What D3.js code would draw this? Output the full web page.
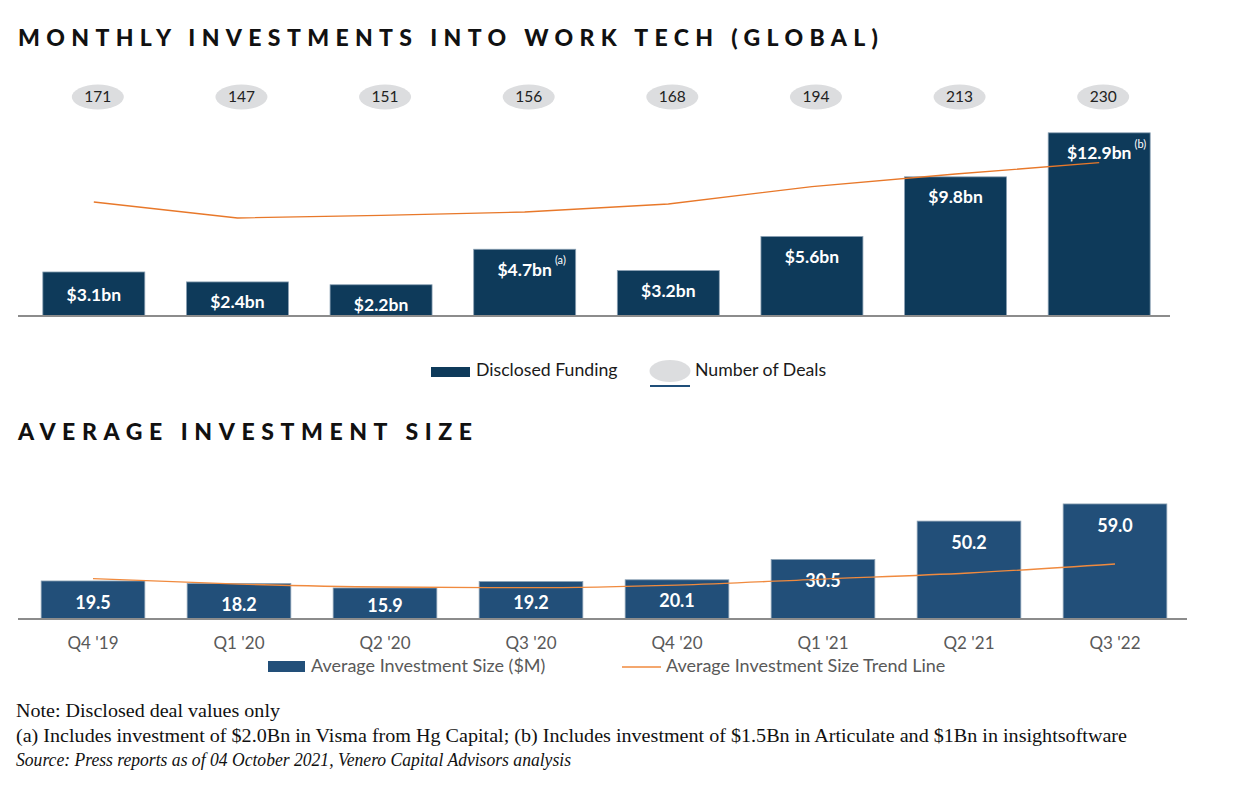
<!DOCTYPE html>
<html>
<head>
<meta charset="utf-8">
<script src="https://cdn.jsdelivr.net/npm/d3@7"></script>
<style>
  html, body { margin: 0; padding: 0; background: #ffffff; }
  svg { display: block; }
</style>
</head>
<body>
<svg id="chart" width="1237" height="787"></svg>
<script>
// ---------------- DATA ----------------
const categories = ["Q4 '19", "Q1 '20", "Q2 '20", "Q3 '20", "Q4 '20", "Q1 '21", "Q2 '21", "Q3 '22"];
const fundingBn = [3.1, 2.4, 2.2, 4.7, 3.2, 5.6, 9.8, 12.9];
const fundingLabels = ["$3.1bn", "$2.4bn", "$2.2bn", "$4.7bn", "$3.2bn", "$5.6bn", "$9.8bn", "$12.9bn"];
const fundingNotes = ["", "", "", "(a)", "", "", "", "(b)"];
const dealCounts = [171, 147, 151, 156, 168, 194, 213, 230];
const avgSize = [19.5, 18.2, 15.9, 19.2, 20.1, 30.5, 50.2, 59.0];
const avgSizeLabels = ["19.5", "18.2", "15.9", "19.2", "20.1", "30.5", "50.2", "59.0"];
const avgTrend = [20.7, 17.9, 16.4, 16.1, 17.4, 20.5, 23.6, 28.2];
const noteLines = [
  "Note: Disclosed deal values only",
  "(a) Includes investment of $2.0Bn in Visma from Hg Capital; (b) Includes investment of $1.5Bn in Articulate and $1Bn in insightsoftware",
  "Source: Press reports as of 04 October 2021, Venero Capital Advisors analysis"
];

// ---------------- STYLE ----------------
const C = {
  topBar: "#0e3a5a",
  botBar: "#224f79",
  barStroke: "#8aa0b3",
  ellipse: "#dcdddf",
  orangeTop: "#e8782a",
  orangeBot: "#f08a3e",
  axis: "#8c8c8c",
  gray: "#595959",
  navyLine: "#1f4e79"
};
const sans = "Lato, 'Open Sans', sans-serif";
const serif = "'Liberation Serif', 'Times New Roman', serif";

const svg = d3.select("#chart");

// ---------------- TITLES ----------------
svg.append("text")
  .attr("x", 18).attr("y", 46)
  .attr("font-family", sans).attr("font-weight", 900).attr("font-size", 23)
  .attr("fill", "#111")
  .attr("textLength", 860).attr("lengthAdjust", "spacing")
  .text("MONTHLY INVESTMENTS INTO WORK TECH (GLOBAL)");

svg.append("text")
  .attr("x", 18).attr("y", 440)
  .attr("font-family", sans).attr("font-weight", 900).attr("font-size", 23)
  .attr("fill", "#111")
  .attr("textLength", 454).attr("lengthAdjust", "spacing")
  .text("AVERAGE INVESTMENT SIZE");

// ---------------- TOP CHART ----------------
const xTop = d3.scaleBand().domain(categories).range([22, 1171]).paddingInner(0.29).paddingOuter(0.145);
const yTop = d3.scaleLinear().domain([0, 14]).range([316, 316 - 14 * 14.2]);
const yDeals = d3.scaleLinear().domain([0, 300]).range([316, 116]);

const gTop = svg.append("g");

gTop.selectAll("rect.bar")
  .data(categories)
  .join("rect")
  .attr("class", "bar")
  .attr("x", d => xTop(d))
  .attr("width", xTop.bandwidth())
  .attr("y", (d, i) => yTop(fundingBn[i]))
  .attr("height", (d, i) => yTop(0) - yTop(fundingBn[i]))
  .attr("fill", C.topBar)
  .attr("stroke", C.barStroke).attr("stroke-width", 0.8);

const axTop = gTop.append("g")
  .attr("transform", `translate(0,${yTop(0)})`)
  .call(d3.axisBottom(xTop).tickSize(0).tickSizeOuter(0).tickFormat(""));
axTop.select(".domain").attr("stroke", C.axis).attr("stroke-width", 2.2)
  .attr("d", "M18,0H1170");

const topLabels = gTop.selectAll("text.blabel")
  .data(categories)
  .join("text")
  .attr("class", "blabel")
  .attr("x", d => xTop(d) + xTop.bandwidth() / 2)
  .attr("y", (d, i) => yTop(fundingBn[i]) + 22 + (i === 0 ? 3 : 0))
  .attr("text-anchor", "middle")
  .attr("dominant-baseline", "middle")
  .attr("font-family", sans).attr("font-weight", 700).attr("font-size", 17.5)
  .attr("fill", "#fff")
  .text((d, i) => fundingLabels[i]);

topLabels.each(function (d, i) {
  if (!fundingNotes[i]) return;
  const w = this.getComputedTextLength();
  const cx = xTop(d) + xTop.bandwidth() / 2;
  gTop.append("text")
    .attr("x", cx + w / 2 + 3)
    .attr("y", yTop(fundingBn[i]) + 22 - 10)
    .attr("dominant-baseline", "middle")
    .attr("font-family", sans).attr("font-size", 11)
    .attr("fill", "#fff")
    .text(fundingNotes[i]);
});

const dealLine = d3.line()
  .x((d, i) => xTop(categories[i]) + xTop.bandwidth() / 2)
  .y(d => yDeals(d));
gTop.append("path")
  .datum(dealCounts)
  .attr("d", dealLine)
  .attr("fill", "none")
  .attr("stroke", C.orangeTop).attr("stroke-width", 1.3);

const ellG = gTop.selectAll("g.ell")
  .data(categories)
  .join("g")
  .attr("class", "ell")
  .attr("transform", d => `translate(${xTop(d) + xTop.bandwidth() / 2 + 4},97)`);
ellG.append("ellipse").attr("rx", 26).attr("ry", 12.5).attr("fill", C.ellipse);
ellG.append("text")
  .attr("text-anchor", "middle").attr("dominant-baseline", "middle")
  .attr("y", 1)
  .attr("font-family", sans).attr("font-size", 15.5)
  .attr("fill", "#222")
  .text((d, i) => dealCounts[i]);

// top legend
const lgTop = svg.append("g");
lgTop.append("rect").attr("x", 431).attr("y", 367).attr("width", 39).attr("height", 10).attr("fill", C.topBar);
lgTop.append("text").attr("x", 476).attr("y", 372).attr("dominant-baseline", "middle")
  .attr("font-family", sans).attr("font-size", 17.7).attr("fill", "#1a1a1a").text("Disclosed Funding");
lgTop.append("ellipse").attr("cx", 670).attr("cy", 371).attr("rx", 20.5).attr("ry", 11).attr("fill", C.ellipse);
lgTop.append("line").attr("x1", 650).attr("x2", 690).attr("y1", 386).attr("y2", 386)
  .attr("stroke", C.navyLine).attr("stroke-width", 1.8);
lgTop.append("text").attr("x", 695).attr("y", 372).attr("dominant-baseline", "middle")
  .attr("font-family", sans).attr("font-size", 17.7).attr("fill", "#1a1a1a").text("Number of Deals");

// ---------------- BOTTOM CHART ----------------
const xBot = d3.scaleBand().domain(categories).range([20, 1188]).paddingInner(0.29).paddingOuter(0.145);
const yBot = d3.scaleLinear().domain([0, 60]).range([619, 619 - 60 * 1.95]);

const gBot = svg.append("g");
gBot.selectAll("rect.bar")
  .data(categories)
  .join("rect")
  .attr("class", "bar")
  .attr("x", d => xBot(d))
  .attr("width", xBot.bandwidth())
  .attr("y", (d, i) => yBot(avgSize[i]))
  .attr("height", (d, i) => yBot(0) - yBot(avgSize[i]))
  .attr("fill", C.botBar)
  .attr("stroke", C.barStroke).attr("stroke-width", 0.8);

const axBot = gBot.append("g")
  .attr("transform", `translate(0,${yBot(0)})`)
  .call(d3.axisBottom(xBot).tickSize(0).tickSizeOuter(0).tickPadding(18));
axBot.select(".domain").attr("stroke", C.axis).attr("stroke-width", 2.2)
  .attr("d", "M18,0H1187");
axBot.selectAll(".tick text")
  .attr("font-family", sans).attr("font-size", 17).attr("fill", C.gray);

gBot.selectAll("text.blabel")
  .data(categories)
  .join("text")
  .attr("class", "blabel")
  .attr("x", d => xBot(d) + xBot.bandwidth() / 2)
  .attr("y", (d, i) => Math.min(yBot(avgSize[i]) + 23, 607))
  .attr("text-anchor", "middle")
  .attr("dominant-baseline", "middle")
  .attr("font-family", sans).attr("font-weight", 700).attr("font-size", 18)
  .attr("fill", "#fff")
  .text((d, i) => avgSizeLabels[i]);

const trendLine = d3.line()
  .x((d, i) => xBot(categories[i]) + xBot.bandwidth() / 2)
  .y(d => yBot(d))
  .curve(d3.curveMonotoneX);
gBot.append("path")
  .datum(avgTrend)
  .attr("d", trendLine)
  .attr("fill", "none")
  .attr("stroke", C.orangeBot).attr("stroke-width", 1.3);

// bottom legend
const lgBot = svg.append("g");
lgBot.append("rect").attr("x", 268).attr("y", 661).attr("width", 37).attr("height", 11).attr("fill", C.botBar);
lgBot.append("text").attr("x", 311).attr("y", 667).attr("dominant-baseline", "middle")
  .attr("font-family", sans).attr("font-size", 18).attr("fill", C.gray).text("Average Investment Size ($M)");
lgBot.append("line").attr("x1", 622).attr("x2", 661).attr("y1", 667).attr("y2", 667)
  .attr("stroke", C.orangeBot).attr("stroke-width", 1.5);
lgBot.append("text").attr("x", 666).attr("y", 667).attr("dominant-baseline", "middle")
  .attr("font-family", sans).attr("font-size", 18).attr("fill", C.gray).text("Average Investment Size Trend Line");

// ---------------- NOTES ----------------
const notesG = svg.append("g");
const noteY = [717, 742, 766];
const noteW = [264, 1111, 555];
noteLines.forEach((t, i) => {
  notesG.append("text")
    .attr("x", 16).attr("y", noteY[i])
    .attr("font-family", serif).attr("font-size", 18)
    .attr("font-style", i === 2 ? "italic" : "normal")
    .attr("fill", "#111")
    .attr("textLength", noteW[i]).attr("lengthAdjust", "spacingAndGlyphs")
    .text(t);
});
</script>
</body>
</html>
